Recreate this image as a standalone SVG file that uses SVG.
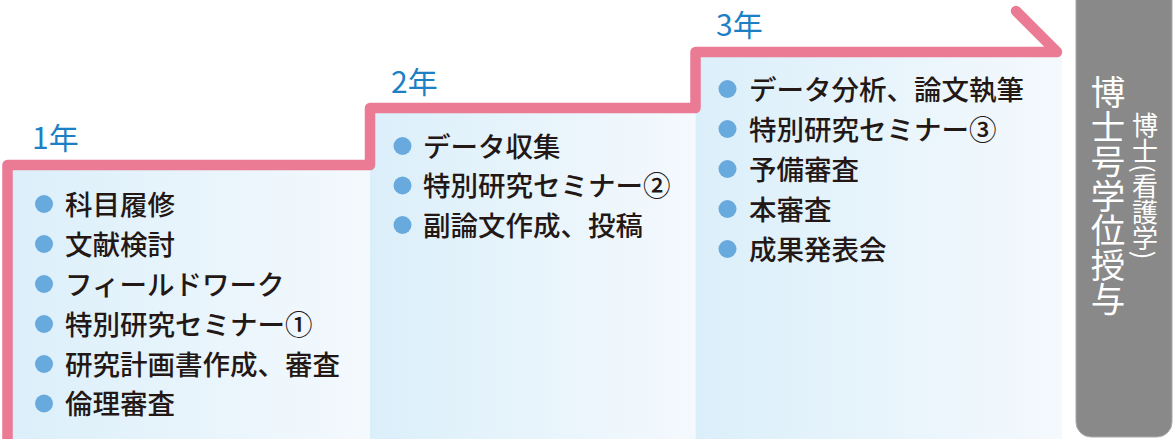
<svg xmlns="http://www.w3.org/2000/svg" width="1176" height="439" viewBox="0 0 1176 439">
<defs>
<linearGradient id="pg" x1="0" y1="0" x2="1" y2="0">
<stop offset="0" stop-color="#dbeffa"/>
<stop offset="1" stop-color="#f4f9fd"/>
</linearGradient>
<style>
.item{font-family:"Noto Sans CJK JP","Noto Sans",sans-serif;font-size:27.5px;font-weight:500;fill:#231815}
.dot{fill:#68aadd}
.year{font-family:"Noto Sans CJK JP","Noto Sans",sans-serif;font-size:30px;font-weight:400;fill:#1d7fc4}
.panel{fill:url(#pg)}
.vt{font-family:"Noto Sans CJK JP",sans-serif;fill:#ffffff;writing-mode:vertical-rl}
</style>
</defs>
<rect width="1176" height="439" fill="#ffffff"/>
<g id="step1">
<rect class="panel" x="7.5" y="165" width="362.5" height="274"/>
<text class="year" x="32" y="148.5">1年</text>
<circle class="dot" cx="44" cy="204" r="9"/><text class="item" x="65" y="214.5">科目履修</text>
<circle class="dot" cx="44" cy="244" r="9"/><text class="item" x="65" y="254.5">文献検討</text>
<circle class="dot" cx="44" cy="284" r="9"/><text class="item" x="65" y="294.5">フィールドワーク</text>
<circle class="dot" cx="44" cy="324" r="9"/><text class="item" x="65" y="334.5">特別研究セミナー①</text>
<circle class="dot" cx="44" cy="364" r="9"/><text class="item" x="65" y="374.5">研究計画書作成、審査</text>
<circle class="dot" cx="44" cy="403.5" r="9"/><text class="item" x="65" y="414">倫理審査</text>
</g>
<g id="step2">
<rect class="panel" x="370" y="108" width="325.5" height="331"/>
<text class="year" x="391" y="92.5">2年</text>
<circle class="dot" cx="402.5" cy="146" r="9"/><text class="item" x="423" y="156.5">データ収集</text>
<circle class="dot" cx="402.5" cy="185.5" r="9"/><text class="item" x="423" y="196">特別研究セミナー②</text>
<circle class="dot" cx="402.5" cy="225" r="9"/><text class="item" x="423" y="235.5">副論文作成、投稿</text>
</g>
<g id="step3">
<rect class="panel" x="695.5" y="52" width="366.5" height="387"/>
<text class="year" x="716" y="35.5">3年</text>
<circle class="dot" cx="727.5" cy="89" r="9"/><text class="item" x="749" y="99.5">データ分析、論文執筆</text>
<circle class="dot" cx="727.5" cy="129" r="9"/><text class="item" x="749" y="139.5">特別研究セミナー③</text>
<circle class="dot" cx="727.5" cy="169" r="9"/><text class="item" x="749" y="179.5">予備審査</text>
<circle class="dot" cx="727.5" cy="209" r="9"/><text class="item" x="749" y="219.5">本審査</text>
<circle class="dot" cx="727.5" cy="249" r="9"/><text class="item" x="749" y="259.5">成果発表会</text>
</g>
<g id="degree">
<rect x="1076" y="-20" width="96" height="457" rx="15" ry="15" fill="#898989" stroke="#a9a9a9" stroke-width="1"/>
<text class="vt" x="1108" y="75" font-size="34.5">博士号学位授与</text>
<text class="vt" x="1145" y="112" font-size="26">博士(看護学)</text>
</g>
<g id="connectors">
<path d="M7.5,450 V165 H370 V108 H695.5 V52 H1057 L1016,11" fill="none" stroke="#eb7b94" stroke-width="10.5" stroke-linejoin="round" stroke-linecap="round"/>
</g>
</svg>
